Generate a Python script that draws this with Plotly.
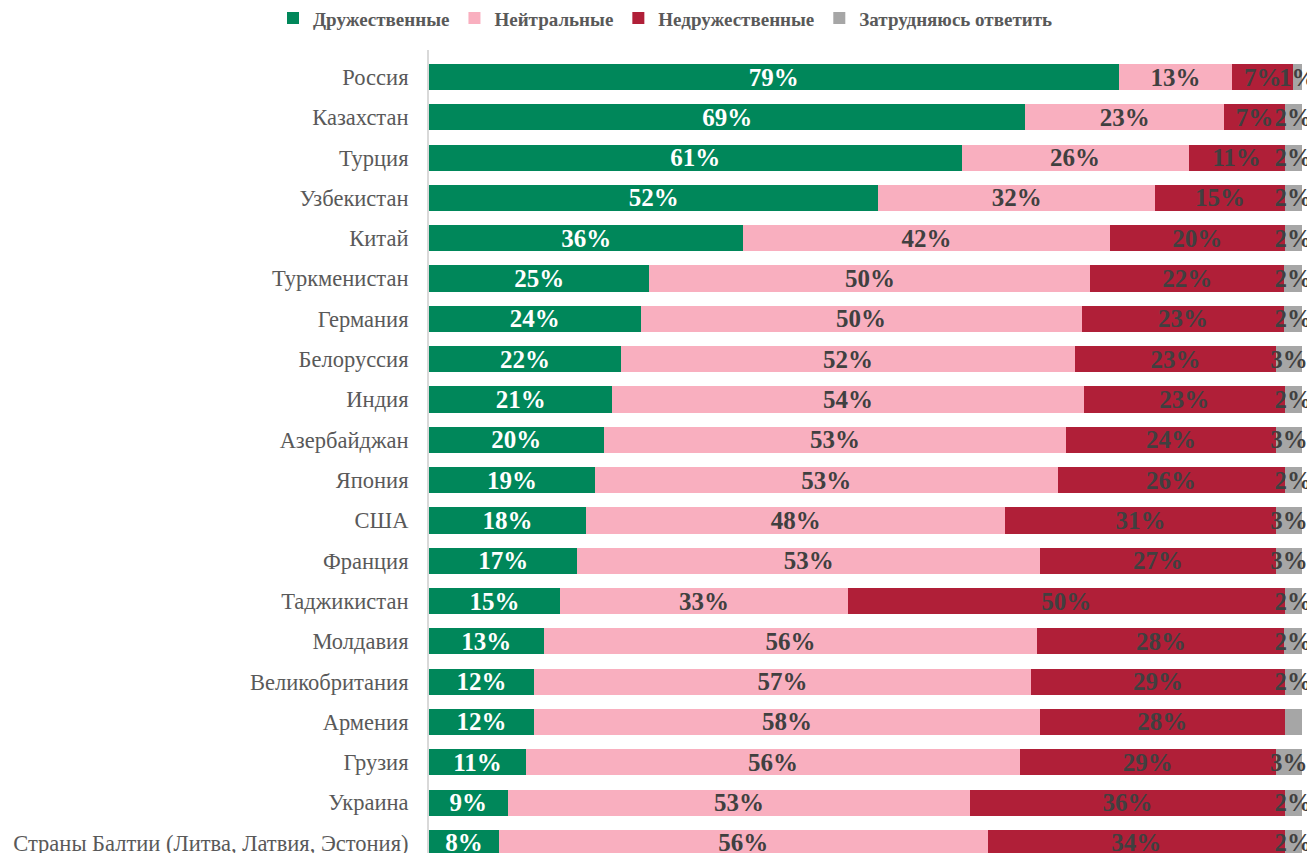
import plotly.graph_objects as go

countries = ["Россия", "Казахстан", "Турция", "Узбекистан", "Китай", "Туркменистан",
             "Германия", "Белоруссия", "Индия", "Азербайджан", "Япония", "США",
             "Франция", "Таджикистан", "Молдавия", "Великобритания", "Армения",
             "Грузия", "Украина", "Страны Балтии (Литва, Латвия, Эстония)"]
friendly = [79, 69, 61, 52, 36, 25, 24, 22, 21, 20, 19, 18, 17, 15, 13, 12, 12, 11, 9, 8]
neutral = [13, 23, 26, 32, 42, 50, 50, 52, 54, 53, 53, 48, 53, 33, 56, 57, 58, 56, 53, 56]
unfriendly = [7, 7, 11, 15, 20, 22, 23, 23, 23, 24, 26, 31, 27, 50, 28, 29, 28, 29, 36, 34]
unsure = [1, 2, 2, 2, 2, 2, 2, 3, 2, 3, 2, 3, 3, 2, 2, 2, 2, 3, 2, 2]
unsure_hidden = ["Армения"]  # label not shown in the source

series = [
    ("Дружественные", friendly, "#00875A", "white"),
    ("Нейтральные", neutral, "#F9AFBF", "#404040"),
    ("Недружественные", unfriendly, "#B01F38", "#404040"),
    ("Затрудняюсь ответить", unsure, "#A6A6A6", "#404040"),
]

fig = go.Figure()
for name, vals, color, tcolor in series:
    labels = [f"{v}%" for v in vals]
    if name == "Затрудняюсь ответить":
        labels = ["" if c in unsure_hidden else t for c, t in zip(countries, labels)]
    fig.add_trace(go.Bar(
        y=countries, x=vals, name=name, orientation="h",
        marker=dict(color=color, line=dict(width=0)),
        width=0.65,
        text=labels, textposition="inside", insidetextanchor="middle",
        textangle=0, constraintext="none", cliponaxis=False,
        textfont=dict(family="Liberation Serif", size=25, color=tcolor, weight="bold"),
    ))

# page body adds an 8px offset, margins compensate for it
fig.update_layout(
    barmode="stack", barnorm="percent",
    width=1315, height=853,
    margin=dict(l=421, r=21, t=42, b=8, autoexpand=False),
    plot_bgcolor="white", paper_bgcolor="white",
    font=dict(family="Liberation Serif", color="#595959"),
    legend=dict(orientation="h", x=0.5, xanchor="center", y=0.988, yanchor="middle",
                yref="container", xref="container",
                font=dict(size=19, color="#595959", weight="bold"),
                itemwidth=30, traceorder="normal"),
    showlegend=True,
)
fig.update_xaxes(range=[0, 100], showticklabels=False, showgrid=False, zeroline=False)
fig.update_yaxes(range=[19.25, -0.67], showgrid=False, showline=True, linecolor="#D9D9D9",
                 linewidth=2, ticks="", ticklabelstandoff=14, automargin=False,
                 tickfont=dict(size=22.5, color="#595959", family="Liberation Serif"))

fig.write_html("out.html")
